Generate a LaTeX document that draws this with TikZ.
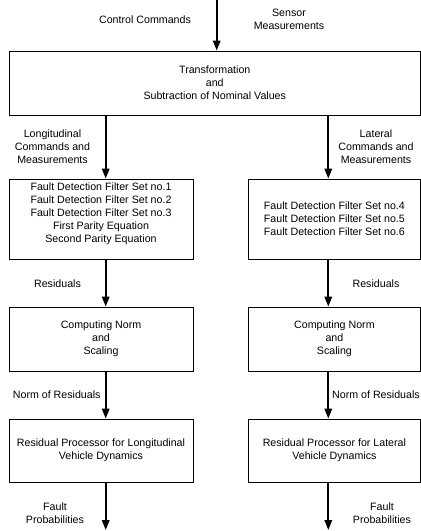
\documentclass[tikz,border=0pt]{standalone}
\usepackage{fontspec}
\setmainfont{Liberation Sans}
\usetikzlibrary{arrows.meta,calc,positioning}

\begin{document}
\begin{tikzpicture}[x=1pt, y=-1pt,
	every node/.style={font=\fontsize{10.65}{13}\selectfont, align=center, inner sep=0pt},
	block/.style={draw, line width=0.9pt, minimum width=184pt, minimum height=80pt},
	flow/.style={line width=1.8pt, -{Triangle[length=10pt, width=7.5pt]}}]
		\useasboundingbox (0,0) rectangle (421,531);
		\coordinate (inx) at (216.7,0);
		\coordinate (lx) at (105.7,0);
		\coordinate (rx) at (328.3,0);
		\coordinate (lend) at (105.7,530);
		\coordinate (rend) at (328.3,530);
		% blocks
		\node[block, minimum width=411.5pt, minimum height=64pt] (trans) at (214.75,83)
			{Transformation\\and\\Subtraction of Nominal Values};
		\node[block] (lfilt) at (101,219)
			{Fault Detection Filter Set no.1\\Fault Detection Filter Set no.2\\Fault Detection Filter Set no.3\\First Parity Equation\\Second Parity Equation\\\mbox{}};
		\node[block, minimum width=172.2pt] (rfilt) at (334.4,219)
			{Fault Detection Filter Set no.4\\Fault Detection Filter Set no.5\\Fault Detection Filter Set no.6};
		\node[block, minimum height=64pt] (lnorm) at (101,339) {Computing Norm\\and\\Scaling};
		\node[block, minimum width=172.2pt, minimum height=64pt] (rnorm) at (334.4,339) {Computing Norm\\and\\Scaling};
		\node[block, minimum height=63pt] (lproc) at (101,450.5)
			{Residual Processor for Longitudinal\\Vehicle Dynamics};
		\node[block, minimum width=172.2pt, minimum height=63pt] (rproc) at (334.4,450.5)
			{Residual Processor for Lateral\\Vehicle Dynamics};
		% labels
		\node (ctrl) at (145,19.3) {Control Commands};
		\node (sens) at (289,19.5) {Sensor\\Measurements};
		\node (lin) at (52.5,146.8) {Longitudinal\\Commands and\\Measurements};
		\node (rin) at (376,146.8) {Lateral\\Commands and\\Measurements};
		\node (lres) at (57.5,283.3) {Residuals};
		\node (rres) at (376,283.3) {Residuals};
		\node (lnl) at (56.7,395) {Norm of Residuals};
		\node (rnl) at (376,395) {Norm of Residuals};
		\node (lfp) at (55,513.5) {Fault\\Probabilities};
		\node (rfp) at (382,513.5) {Fault\\Probabilities};
		% arrows
		\draw[flow] (inx) -- (trans.north -| inx);
		\draw[flow] (trans.south -| lx) -- (lfilt.north -| lx);
		\draw[flow] (trans.south -| rx) -- (rfilt.north -| rx);
		\draw[flow] (lfilt.south -| lx) -- (lnorm.north -| lx);
		\draw[flow] (rfilt.south -| rx) -- (rnorm.north -| rx);
		\draw[flow] (lnorm.south -| lx) -- (lproc.north -| lx);
		\draw[flow] (rnorm.south -| rx) -- (rproc.north -| rx);
		\draw[flow] (lproc.south -| lx) -- (lend);
		\draw[flow] (rproc.south -| rx) -- (rend);
	\end{tikzpicture}
\end{document}
